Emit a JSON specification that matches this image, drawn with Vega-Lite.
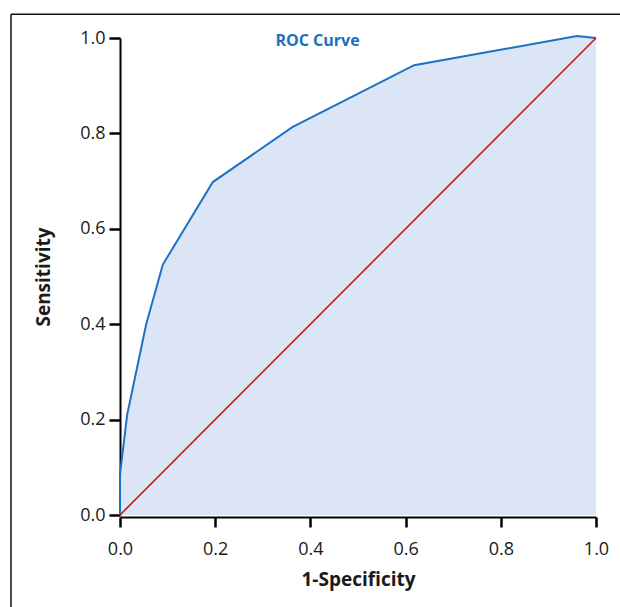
{
  "$schema": "https://vega.github.io/schema/vega-lite/v6.json",
  "autosize": "none",
  "width": 476,
  "height": 477,
  "padding": {"left": 120, "top": 38, "right": 24, "bottom": 92},
  "background": "white",
  "config": {
    "view": {"stroke": null},
    "font": "Open Sans",
    "axis": {"grid": false}
  },
  "datasets": {
    "roc": [
      {"fpr": 0.0, "tpr": 0.0},
      {"fpr": 0.0, "tpr": 0.085},
      {"fpr": 0.015, "tpr": 0.21},
      {"fpr": 0.055, "tpr": 0.4},
      {"fpr": 0.09, "tpr": 0.525},
      {"fpr": 0.195, "tpr": 0.698},
      {"fpr": 0.362, "tpr": 0.813},
      {"fpr": 0.618, "tpr": 0.943},
      {"fpr": 0.96, "tpr": 1.004},
      {"fpr": 1.0, "tpr": 1.0}
    ],
    "diag": [
      {"fpr": 0.0, "tpr": 0.0},
      {"fpr": 1.0, "tpr": 1.0}
    ],
    "label": [
      {"fpr": 0.415, "tpr": 0.993, "text": "ROC Curve"}
    ],
    "frameV": [
      {"x": -0.229, "y": -0.3, "y2": 1.05}
    ],
    "frameH": [
      {"x": -0.229, "x2": 1.2, "y": 1.05}
    ]
  },
  "layer": [
    {
      "data": {"name": "roc"},
      "mark": {"type": "area", "color": "#dbe5f5", "opacity": 1},
      "encoding": {
        "x": {
          "field": "fpr", "type": "quantitative",
          "scale": {"domain": [0, 1], "nice": false},
          "axis": {
            "title": "1-Specificity",
            "values": [0, 0.2, 0.4, 0.6, 0.8, 1.0],
            "format": ".1f",
            "labelFlush": false,
            "labelOverlap": false,
            "domainColor": "black", "domainWidth": 2,
            "tickColor": "black", "tickWidth": 2.5, "tickSize": 10,
            "labelFontSize": 18, "labelColor": "#1a1a1a", "labelPadding": 13,
            "titleFontSize": 19, "titleFontWeight": "bold", "titleColor": "#1a1a1a",
            "titlePadding": 12, "offset": 2
          }
        },
        "y": {
          "field": "tpr", "type": "quantitative",
          "scale": {"domain": [0, 1], "nice": false},
          "axis": {
            "title": "Sensitivity",
            "values": [0, 0.2, 0.4, 0.6, 0.8, 1.0],
            "format": ".1f",
            "labelFlush": false,
            "labelOverlap": false,
            "domainColor": "black", "domainWidth": 2,
            "tickColor": "black", "tickWidth": 2.5, "tickSize": 11,
            "labelFontSize": 18, "labelColor": "#1a1a1a", "labelPadding": 4,
            "titleFontSize": 19, "titleFontWeight": "bold", "titleColor": "#1a1a1a",
            "titlePadding": 26
          }
        }
      }
    },
    {
      "data": {"name": "roc"},
      "mark": {"type": "line", "color": "#1a72c4", "strokeWidth": 2},
      "encoding": {
        "x": {"field": "fpr", "type": "quantitative"},
        "y": {"field": "tpr", "type": "quantitative"}
      }
    },
    {
      "data": {"name": "diag"},
      "mark": {"type": "line", "color": "#c41a1a", "strokeWidth": 1.6},
      "encoding": {
        "x": {"field": "fpr", "type": "quantitative"},
        "y": {"field": "tpr", "type": "quantitative"}
      }
    },
    {
      "data": {"name": "label"},
      "mark": {"type": "text", "color": "#1a6fc0", "fontSize": 16, "fontWeight": "bold", "baseline": "middle", "align": "center"},
      "encoding": {
        "x": {"field": "fpr", "type": "quantitative"},
        "y": {"field": "tpr", "type": "quantitative"},
        "text": {"field": "text"}
      }
    },
    {
      "data": {"name": "frameV"},
      "mark": {"type": "rule", "color": "#111", "strokeWidth": 1.5},
      "encoding": {
        "x": {"field": "x", "type": "quantitative"},
        "y": {"field": "y", "type": "quantitative"},
        "y2": {"field": "y2"}
      }
    },
    {
      "data": {"name": "frameH"},
      "mark": {"type": "rule", "color": "#111", "strokeWidth": 1.5},
      "encoding": {
        "x": {"field": "x", "type": "quantitative"},
        "x2": {"field": "x2"},
        "y": {"field": "y", "type": "quantitative"}
      }
    }
  ]
}
